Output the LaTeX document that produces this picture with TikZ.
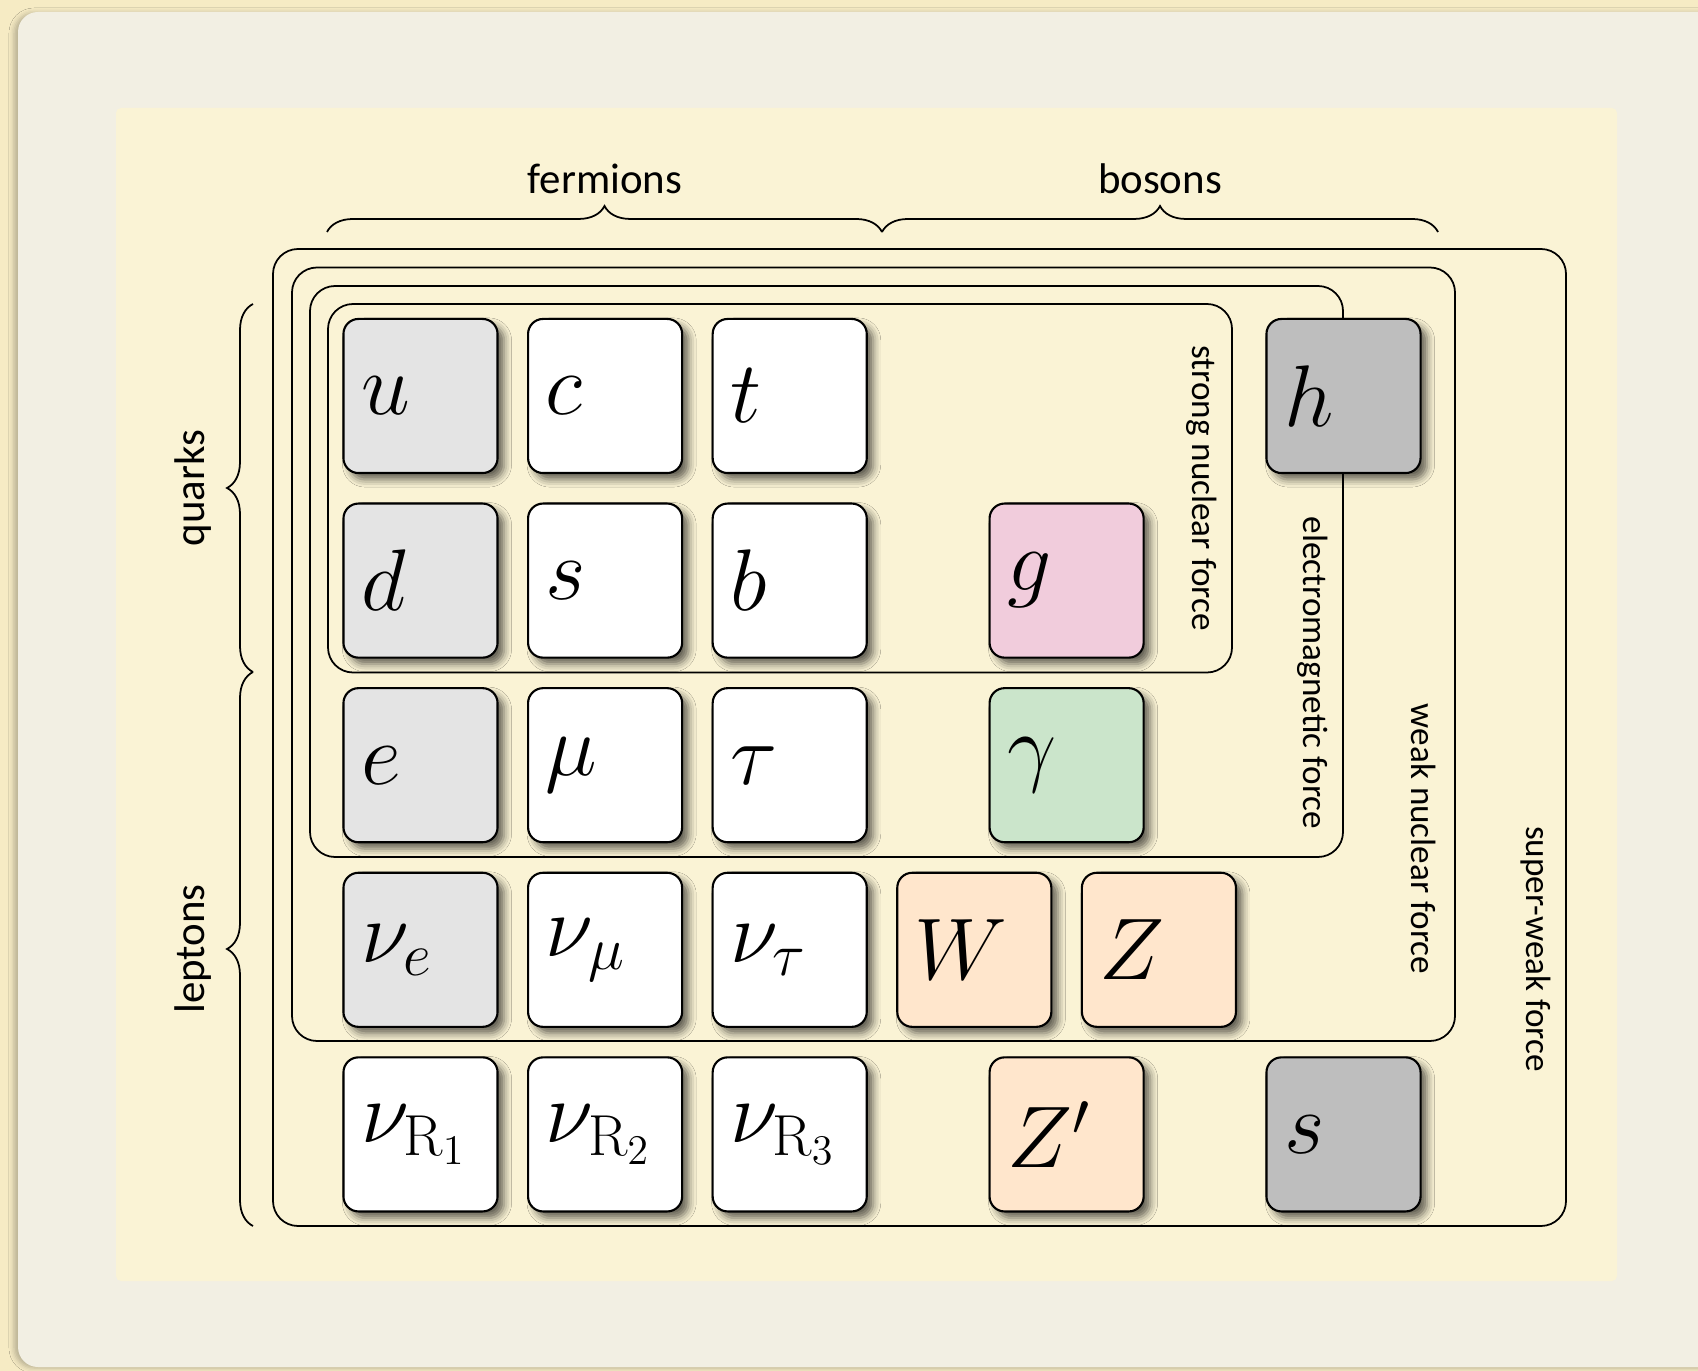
\documentclass[tikz,border=0pt]{standalone}
\usepackage{fontspec}
\setsansfont{Carlito}
\usetikzlibrary{decorations.pathreplacing, shadows.blur}

\definecolor{edgecream}{HTML}{F6EBC4}
\definecolor{paper}{HTML}{F2EFE3}
\definecolor{panel}{HTML}{FAF3D5}
\definecolor{lightgrey}{HTML}{E4E4E4}
\definecolor{midgrey}{HTML}{BEBEBE}
\definecolor{gluonpink}{HTML}{F1CCDC}
\definecolor{photongreen}{HTML}{CBE5CB}
\definecolor{weakpeach}{HTML}{FFE6CC}

\tikzset{
  particle/.style={draw, line width=0.6pt, rounded corners=0.15cm,
    minimum width=1.54cm, minimum height=1.54cm, inner sep=0pt,
    blur shadow={shadow xshift=0.065cm, shadow yshift=-0.065cm,
      shadow blur radius=0.075cm, shadow opacity=60}},
  symbol/.style={anchor=west, inner sep=0pt,
    font=\fontsize{23.5}{28}\selectfont},
  region/.style={draw, line width=0.5pt, rounded corners=0.25cm},
  forcelabel/.style={rotate=-90, inner sep=0pt,
    font=\sffamily\fontsize{10}{12}\selectfont},
  groupbrace/.style={draw, line width=0.5pt, decorate,
    decoration={brace, amplitude=0.26cm}},
  grouplabel/.style={inner sep=0pt, font=\sffamily\fontsize{12.2}{14}\selectfont},
}

% one particle tile: name, position, fill colour, symbol
\newcommand{\partbox}[4]{%
  \node[particle, fill=#3] (#1) at (#2) {};
  \node[symbol] (#1-sym) at ([xshift=0.18cm]#1.west) {$#4$};
}

\begin{document}
\begin{tikzpicture}[x=0.01cm, y=-0.01cm]
  \useasboundingbox (0,0) rectangle (1698,1371);

  % paper layers
  \fill[edgecream] (0,0) rectangle (1698,1371);
  \fill[paper, rounded corners=0.2cm,
    blur shadow={shadow xshift=-0.04cm, shadow yshift=-0.01cm,
      shadow blur radius=0.05cm, shadow opacity=25}]
    (18,12) rectangle (1730,1367);
  \fill[panel, rounded corners=0.05cm] (116,108) rectangle (1617,1281);

  % interaction regions
  \draw[region] (273,249) rectangle (1566,1226);
  \draw[region] (292,267.5) rectangle (1455,1041);
  \draw[region] (310,286) rectangle (1343,857);
  \draw[region] (328,304) rectangle (1232,672.5);

  \node[forcelabel] (strong-label) at (1202,488) {strong nuclear force};
  \node[forcelabel] (em-label) at (1313,673) {electromagnetic force};
  \node[forcelabel] (weak-label) at (1424,839) {weak nuclear force};
  \node[forcelabel] (superweak-label) at (1536,949) {super-weak force};

  % particles
  \partbox{u}{420.5,396}{lightgrey}{u}
  \partbox{c}{605.1,396}{white}{c}
  \partbox{t}{789.7,396}{white}{t}
  \partbox{h}{1343.5,396}{midgrey}{h}

  \partbox{d}{420.5,580.6}{lightgrey}{d}
  \partbox{s}{605.1,580.6}{white}{s}
  \partbox{b}{789.7,580.6}{white}{b}
  \partbox{g}{1066.6,580.6}{gluonpink}{g}

  \partbox{e}{420.5,765.2}{lightgrey}{e}
  \partbox{mu}{605.1,765.2}{white}{\mu}
  \partbox{tau}{789.7,765.2}{white}{\tau}
  \partbox{gamma}{1066.6,765.2}{photongreen}{\gamma}

  \partbox{nue}{420.5,949.8}{lightgrey}{\nu_e}
  \partbox{numu}{605.1,949.8}{white}{\nu_\mu}
  \partbox{nutau}{789.7,949.8}{white}{\nu_\tau}
  \partbox{W}{974.3,949.8}{weakpeach}{W}
  \partbox{Z}{1158.9,949.8}{weakpeach}{Z}

  \partbox{nuR1}{420.5,1134.4}{white}{\nu_{\mathrm{R}_1}}
  \partbox{nuR2}{605.1,1134.4}{white}{\nu_{\mathrm{R}_2}}
  \partbox{nuR3}{789.7,1134.4}{white}{\nu_{\mathrm{R}_3}}
  \partbox{Zp}{1066.6,1134.4}{weakpeach}{Z'}
  \partbox{scalar}{1343.5,1134.4}{midgrey}{s}

  % grouping braces
  \coordinate (ferm-a) at (327,232);
  \coordinate (ferm-b) at (882,232);
  \coordinate (bos-b) at (1438,232);
  \coordinate (quark-a) at (253,304);
  \coordinate (quark-b) at (253,672);
  \coordinate (lepton-b) at (253,1226);

  \draw[groupbrace] (ferm-a) -- (ferm-b);
  \draw[groupbrace] (ferm-b) -- (bos-b);
  \draw[groupbrace] (quark-b) -- (quark-a);
  \draw[groupbrace] (lepton-b) -- (quark-b);

  \node[grouplabel] (fermions) at (605,179) {fermions};
  \node[grouplabel] (bosons) at (1160,179) {bosons};
  \node[grouplabel, rotate=90] (quarks) at (193,488) {quarks};
  \node[grouplabel, rotate=90] (leptons) at (193,949) {leptons};
\end{tikzpicture}
\end{document}
